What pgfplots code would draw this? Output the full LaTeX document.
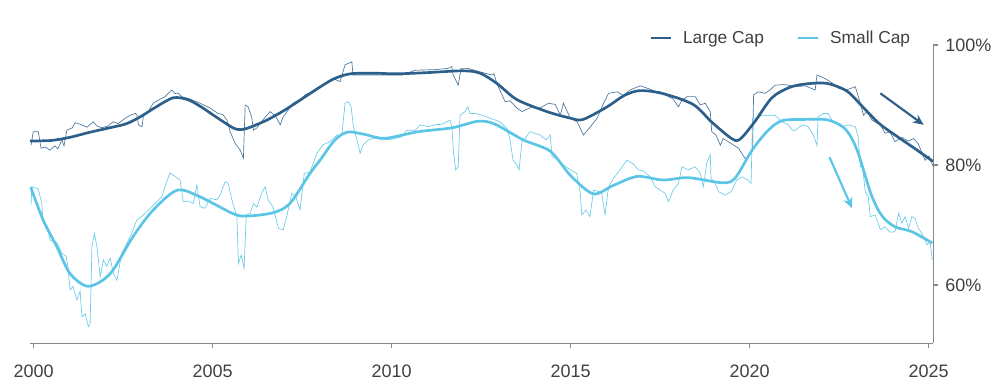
\documentclass[border=0pt]{standalone}
\usepackage{pgfplots}
\pgfplotsset{compat=1.18}
\usepackage{fontspec}
\setmainfont{Liberation Sans}
\usetikzlibrary{arrows.meta}
\definecolor{dblue}{HTML}{2D5F8B}
\definecolor{lblue}{HTML}{5BC5E6}
\definecolor{txt}{HTML}{404040}
\definecolor{axc}{HTML}{8A8A8A}
\begin{document}
\begin{tikzpicture}
\useasboundingbox (0,0) rectangle (750pt,290.25pt);
\begin{axis}[
  at={(22.5pt,32.8pt)}, anchor=south west,
  scale only axis, width=677.5pt, height=223.7pt,
  xmin=1999.9, xmax=2025.13, ymin=50.3, ymax=100,
  axis x line=bottom, axis y line=right,
  axis line style={-, draw=axc, line width=0.9pt},
  tick align=outside, major tick length=3.5pt,
  tick style={draw=axc, line width=0.9pt},
  xtick={2000,2005,2010,2015,2020,2025},
  ytick={60,80,100},
  /pgf/number format/1000 sep={},
  /pgf/number format/assume math mode=true,
  yticklabel={\pgfmathprintnumber{\tick}\%},
  ticklabel style={font=\fontsize{13.5}{16}\selectfont, text=txt},
  xticklabel style={yshift=-9pt},
  yticklabel style={xshift=2pt},
  clip=true,
  legend columns=2,
  legend style={at={(axis description cs:0.9775,1.0235)}, anchor=east, draw=none, fill=none, inner sep=0pt,
    font=\fontsize{13}{16}\selectfont, text=txt,
    /tikz/every even column/.append style={column sep=23pt},
    /tikz/every odd column/.append style={column sep=6pt}},
  legend cell align=left,
  legend image code/.code={\draw[#1, line width=1.6pt] (0pt,0pt) -- (15pt,0pt);},
]
% Large Cap raw
\addplot[dblue, line width=0.5pt, opacity=0.85, forget plot] coordinates {
(1999.93,83.3)(1999.99,85.55)(2000.13,85.55)(2000.21,82.8)(2000.32,83.0)(2000.46,82.5)(2000.60,83.2)(2000.68,82.7)(2000.79,84.2)(2000.85,83.2)(2000.93,85.8)(2001.08,86.2)(2001.16,87.05)(2001.30,86.8)(2001.49,86.3)(2001.67,87.2)(2001.77,86.5)(2001.91,86.2)(2002.08,86.5)(2002.22,87.2)(2002.36,86.9)(2002.56,87.8)(2002.70,88.3)(2002.84,88.6)(2002.89,88.3)(2002.93,86.7)(2003.03,86.4)(2003.07,88.3)(2003.20,88.9)(2003.34,90.3)(2003.48,90.8)(2003.67,91.4)(2003.86,92.5)(2003.95,91.9)(2004.04,92.0)(2004.14,91.4)(2004.37,91.0)(2004.65,90.3)(2004.93,89.5)(2005.15,88.6)(2005.29,88.4)(2005.40,87.5)(2005.49,85.55)(2005.63,83.6)(2005.77,82.5)(2005.86,81.1)(2005.91,90.0)(2005.99,89.7)(2006.09,88.05)(2006.14,85.8)(2006.24,86.2)(2006.35,87.1)(2006.47,88.0)(2006.61,88.9)(2006.75,88.2)(2006.89,86.7)(2006.97,88.0)(2007.25,90.3)(2007.44,90.9)(2007.61,91.8)(2007.81,92.2)(2008.00,93.05)(2008.20,93.6)(2008.37,94.4)(2008.56,93.9)(2008.70,96.7)(2008.89,97.2)(2008.92,95.0)(2009.18,95.0)(2009.62,95.0)(2010.29,95.0)(2010.66,95.8)(2011.21,95.9)(2011.58,96.1)(2011.68,96.4)(2011.72,95.0)(2011.86,93.3)(2011.94,96.1)(2012.14,96.1)(2012.42,95.6)(2012.61,95.3)(2012.80,95.0)(2012.86,95.2)(2012.94,93.6)(2013.17,90.55)(2013.31,90.7)(2013.48,89.6)(2013.64,88.9)(2013.92,89.7)(2014.15,89.5)(2014.38,90.3)(2014.57,90.1)(2014.71,88.3)(2014.80,90.3)(2014.93,88.6)(2014.99,87.8)(2015.18,87.2)(2015.36,85.0)(2015.54,86.3)(2015.74,87.8)(2015.92,90.3)(2016.06,91.95)(2016.30,92.2)(2016.47,91.6)(2016.66,92.5)(2016.94,93.2)(2017.14,92.8)(2017.36,92.3)(2017.50,92.2)(2017.73,91.4)(2017.86,91.0)(2018.01,89.7)(2018.11,90.8)(2018.25,91.4)(2018.48,91.4)(2018.62,90.0)(2018.76,90.3)(2018.90,88.9)(2018.94,85.55)(2019.06,85.0)(2019.18,83.3)(2019.26,84.4)(2019.48,83.6)(2019.69,82.8)(2019.87,81.1)(2020.01,81.7)(2020.08,82.5)(2020.11,91.7)(2020.24,92.2)(2020.43,91.95)(2020.57,92.5)(2020.71,93.3)(2020.91,93.4)(2021.08,93.3)(2021.27,93.05)(2021.55,93.2)(2021.83,92.5)(2021.88,95.0)(2022.11,94.4)(2022.30,93.7)(2022.48,92.8)(2022.70,92.5)(2022.95,93.05)(2023.09,90.3)(2023.18,88.3)(2023.28,89.0)(2023.41,87.5)(2023.65,86.7)(2023.78,85.3)(2023.92,85.5)(2024.06,83.9)(2024.26,84.6)(2024.43,84.0)(2024.58,84.4)(2024.71,83.5)(2024.90,80.8)(2025.01,81.5)(2025.13,79.7)
};
% Small Cap raw
\addplot[lblue, line width=0.5pt, opacity=0.9, forget plot] coordinates {
(1999.93,73.3)(1999.95,76.4)(2000.13,76.0)(2000.23,73.6)(2000.27,70.3)(2000.38,69.8)(2000.46,67.5)(2000.66,67.0)(2000.79,65.3)(2000.91,64.8)(2000.96,63.0)(2001.02,59.2)(2001.10,59.8)(2001.21,57.5)(2001.30,59.0)(2001.35,54.7)(2001.44,55.2)(2001.53,53.05)(2001.58,53.6)(2001.63,66.4)(2001.70,68.6)(2001.77,66.4)(2001.86,61.4)(2001.95,64.2)(2002.04,63.1)(2002.14,64.5)(2002.23,61.9)(2002.33,60.8)(2002.46,65.3)(2002.56,66.4)(2002.74,68.6)(2002.88,70.8)(2003.02,71.4)(2003.21,72.5)(2003.39,73.6)(2003.58,74.7)(2003.67,76.4)(2003.81,78.7)(2003.95,78.1)(2004.09,77.5)(2004.18,73.9)(2004.32,74.0)(2004.46,73.6)(2004.56,76.7)(2004.65,73.05)(2004.79,72.8)(2004.93,74.45)(2005.12,74.2)(2005.21,75.0)(2005.35,77.2)(2005.43,77.0)(2005.54,74.2)(2005.68,71.4)(2005.72,63.6)(2005.80,65.0)(2005.88,62.8)(2005.94,71.7)(2006.05,71.9)(2006.14,73.6)(2006.24,73.0)(2006.37,75.3)(2006.47,76.4)(2006.55,74.2)(2006.69,73.0)(2006.84,69.45)(2006.97,69.2)(2007.07,71.4)(2007.21,75.3)(2007.33,74.6)(2007.44,72.5)(2007.56,78.6)(2007.72,78.8)(2007.91,81.95)(2008.09,83.4)(2008.28,83.9)(2008.47,85.0)(2008.61,85.0)(2008.70,90.3)(2008.79,90.55)(2008.87,89.7)(2008.93,86.4)(2009.03,84.2)(2009.12,81.95)(2009.20,83.3)(2009.35,84.2)(2009.54,84.5)(2009.73,84.2)(2010.01,84.3)(2010.28,84.7)(2010.42,85.8)(2010.66,85.8)(2010.80,86.7)(2011.02,86.4)(2011.21,86.7)(2011.41,86.8)(2011.63,87.5)(2011.68,86.4)(2011.73,81.95)(2011.79,79.2)(2011.86,79.7)(2011.91,88.3)(2012.05,88.9)(2012.13,89.7)(2012.19,88.6)(2012.33,88.6)(2012.53,88.3)(2012.75,87.8)(2013.03,87.2)(2013.22,86.1)(2013.31,84.2)(2013.39,80.8)(2013.48,80.2)(2013.56,79.2)(2013.64,83.9)(2013.73,84.5)(2013.87,85.55)(2014.15,85.0)(2014.32,84.2)(2014.43,85.0)(2014.48,81.4)(2014.62,81.0)(2014.80,80.0)(2014.99,79.2)(2015.17,78.6)(2015.27,75.3)(2015.31,71.7)(2015.43,72.5)(2015.54,71.4)(2015.64,75.8)(2015.77,75.6)(2015.87,75.3)(2015.96,71.7)(2016.06,76.4)(2016.19,77.7)(2016.38,79.2)(2016.57,80.8)(2016.75,80.2)(2016.89,79.2)(2017.03,79.0)(2017.22,78.05)(2017.36,76.4)(2017.50,75.8)(2017.64,75.3)(2017.73,73.9)(2017.86,75.8)(2018.01,76.9)(2018.11,79.7)(2018.28,79.2)(2018.48,79.7)(2018.62,78.6)(2018.71,76.4)(2018.80,80.3)(2018.90,81.7)(2018.92,77.8)(2019.04,76.9)(2019.13,75.55)(2019.32,75.0)(2019.48,75.55)(2019.64,77.5)(2019.79,78.0)(2019.96,77.5)(2020.04,76.9)(2020.08,87.8)(2020.21,87.8)(2020.34,88.3)(2020.52,88.3)(2020.71,88.3)(2020.91,87.2)(2021.08,86.7)(2021.19,85.8)(2021.27,85.8)(2021.47,86.7)(2021.63,86.4)(2021.78,85.0)(2021.88,83.3)(2021.91,88.05)(2022.06,88.6)(2022.19,88.6)(2022.30,87.5)(2022.44,86.95)(2022.58,86.4)(2022.75,86.7)(2022.95,86.4)(2023.03,84.7)(2023.09,79.7)(2023.14,80.3)(2023.23,75.55)(2023.31,74.8)(2023.37,71.4)(2023.51,71.7)(2023.65,69.2)(2023.78,69.7)(2023.92,68.8)(2024.06,68.9)(2024.16,71.95)(2024.25,70.3)(2024.34,71.4)(2024.44,69.5)(2024.53,71.4)(2024.62,71.1)(2024.71,69.5)(2024.86,68.05)(2024.95,66.7)(2025.04,67.2)(2025.10,64.2)
};
% Large Cap smoothed
\addplot[dblue, line width=2pt, smooth] coordinates {
(1999.90,84.0)(2000.5,84.1)(2001.0,84.6)(2001.6,85.5)(2002.2,86.3)(2002.6,86.9)(2003.0,88.1)(2003.4,89.6)(2003.9,91.2)(2004.3,90.9)(2004.65,89.8)(2005.1,88.0)(2005.57,86.2)(2005.8,85.9)(2006.05,86.3)(2006.52,87.5)(2007.0,89.1)(2007.44,90.8)(2008.0,93.0)(2008.4,94.4)(2008.85,95.2)(2009.5,95.3)(2010.15,95.2)(2011.0,95.4)(2011.99,95.7)(2012.47,95.3)(2012.94,93.6)(2013.5,90.9)(2014.34,88.9)(2015.0,87.8)(2015.35,87.6)(2016.02,89.7)(2016.5,91.6)(2016.94,92.4)(2017.58,91.9)(2018.42,90.1)(2018.95,87.1)(2019.5,84.4)(2019.73,84.3)(2020.14,87.2)(2020.62,91.2)(2021.1,92.9)(2021.55,93.5)(2022.16,93.6)(2022.72,92.3)(2023.14,89.8)(2023.6,87.0)(2024.06,85.0)(2024.6,82.8)(2025.12,80.6)
};
\addlegendentry{Large Cap}
% Small Cap smoothed
\addplot[lblue, line width=2pt, smooth] coordinates {
(1999.92,76.3)(2000.27,70.8)(2000.65,66.4)(2001.02,61.9)(2001.53,59.8)(2002.14,61.9)(2002.78,68.1)(2003.34,72.5)(2004.01,75.8)(2004.65,74.7)(2005.57,71.9)(2005.96,71.5)(2006.69,72.05)(2007.16,73.6)(2007.72,78.6)(2008.0,80.8)(2008.42,84.2)(2008.78,85.5)(2009.25,85.1)(2009.81,84.45)(2010.74,85.55)(2011.69,86.2)(2012.42,87.3)(2012.89,86.8)(2013.67,84.2)(2014.43,82.3)(2014.99,78.3)(2015.63,75.2)(2016.19,76.6)(2016.86,78.1)(2017.58,77.5)(2018.28,77.9)(2019.23,77.05)(2019.59,77.8)(2020.07,82.5)(2020.52,85.8)(2020.91,87.4)(2021.55,87.6)(2022.19,87.5)(2022.67,86.0)(2023.0,82.5)(2023.4,75.0)(2023.7,71.5)(2024.06,69.7)(2024.53,68.9)(2025.10,67.0)
};
\addlegendentry{Small Cap}
% arrows
\draw[dblue, line width=1.6pt, -{Stealth[length=8pt,width=7pt]}] (axis cs:2023.65,91.95) -- (axis cs:2024.86,86.7);
\draw[lblue, line width=1.6pt, -{Stealth[length=8pt,width=7pt]}] (axis cs:2022.23,81.3) -- (axis cs:2022.86,72.8);
\end{axis}
\end{tikzpicture}
\end{document}
